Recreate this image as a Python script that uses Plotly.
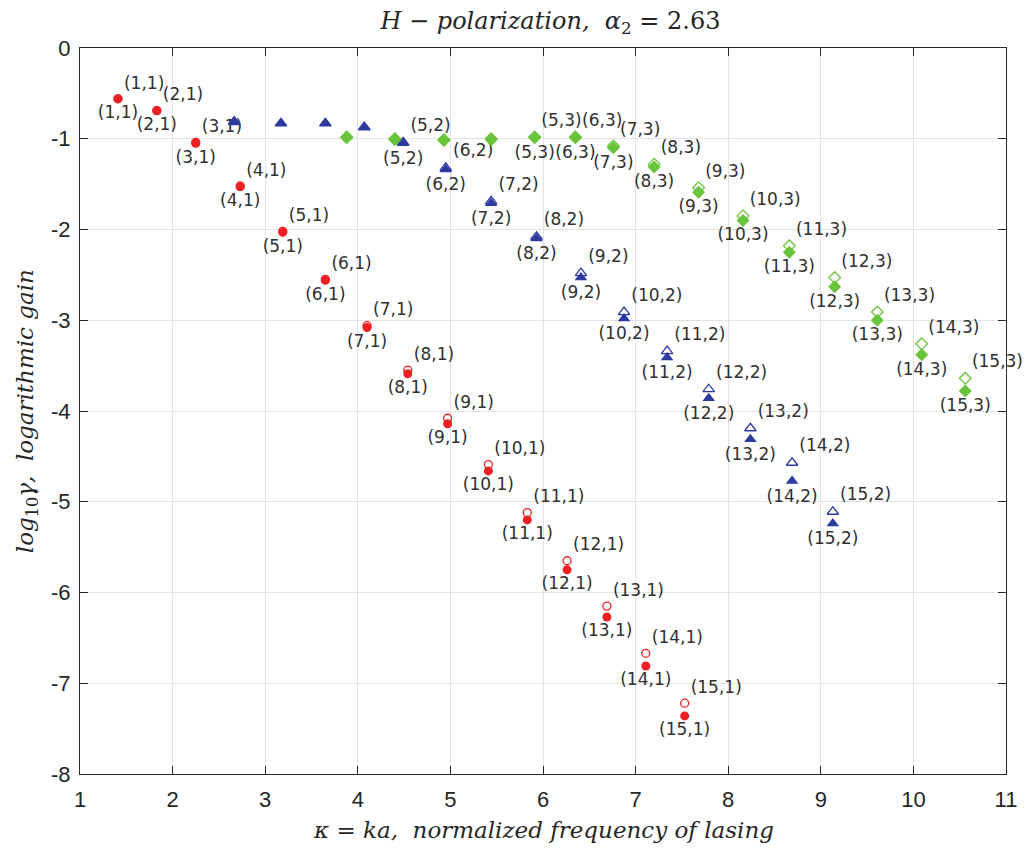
import plotly.graph_objects as go

# ---- data ----
kappa_m1 = [1.41, 1.83, 2.25, 2.73, 3.19, 3.65, 4.10, 4.54, 4.97, 5.41, 5.83, 6.26, 6.69, 7.11, 7.53]
gain_m1_filled = [-0.56, -0.69, -1.05, -1.53, -2.03, -2.56, -3.08, -3.59, -4.14, -4.66, -5.20, -5.75, -6.27, -6.81, -7.36]
gain_m1_open = [-0.56, -0.69, -1.04, -1.52, -2.02, -2.55, -3.06, -3.55, -4.08, -4.59, -5.12, -5.65, -6.15, -6.67, -7.22]

kappa_m2 = [2.665, 3.17, 3.65, 4.07, 4.49, 4.95, 5.44, 5.93, 6.41, 6.875, 7.34, 7.79, 8.24, 8.69, 9.13]
gain_m2_filled = [-0.82, -0.83, -0.83, -0.88, -1.05, -1.34, -1.71, -2.10, -2.53, -2.98, -3.41, -3.86, -4.31, -4.77, -5.24]
gain_m2_open = [-0.81, -0.83, -0.83, -0.87, -1.04, -1.32, -1.69, -2.08, -2.48, -2.91, -3.34, -3.76, -4.19, -4.57, -5.11]

kappa_m3 = [3.88, 4.40, 4.93, 5.44, 5.91, 6.35, 6.76, 7.20, 7.68, 8.16, 8.66, 9.15, 9.61, 10.09, 10.56]
gain_m3_filled = [-0.99, -1.01, -1.02, -1.01, -0.99, -0.99, -1.10, -1.31, -1.59, -1.90, -2.25, -2.63, -3.00, -3.38, -3.78]
gain_m3_open = [-0.98, -1.00, -1.01, -1.00, -0.98, -0.98, -1.08, -1.28, -1.54, -1.85, -2.18, -2.53, -2.91, -3.26, -3.64]

labels_m1 = ["(%d,1)" % n for n in range(1, 16)]
labels_m2 = [""] * 4 + ["(%d,2)" % n for n in range(5, 16)]
labels_m3 = [""] * 4 + ["(%d,3)" % n for n in range(5, 16)]

x_ticks = [1, 2, 3, 4, 5, 6, 7, 8, 9, 10, 11]
x_ticktext = ["1", "2", "3", "4", "5", "6", "7", "8", "9", "10", "11"]
y_ticks = [0, -1, -2, -3, -4, -5, -6, -7, -8]
y_ticktext = ["0", "-1", "-2", "-3", "-4", "-5", "-6", "-7", "-8"]

RED = "rgb(238,32,36)"
BLUE = "rgb(44,58,160)"
GREEN = "rgb(104,196,58)"
LABEL_FONT = dict(family="DejaVu Sans, Arial, sans-serif", size=17, color="#303030")

fig = go.Figure()

series = [
    (kappa_m1, gain_m1_open, gain_m1_filled, labels_m1, RED, "circle", 9),
    (kappa_m2, gain_m2_open, gain_m2_filled, labels_m2, BLUE, "triangle-up", 11),
    (kappa_m3, gain_m3_open, gain_m3_filled, labels_m3, GREEN, "diamond", 10),
]


def split(k, g, labs):
    """Separate labelled points from unlabelled ones."""
    lab_idx = [i for i, t in enumerate(labs) if t]
    nol_idx = [i for i, t in enumerate(labs) if not t]
    return ([k[i] for i in lab_idx], [g[i] for i in lab_idx], [labs[i] for i in lab_idx],
            [k[i] for i in nol_idx], [g[i] for i in nol_idx])


def add(k, g, labs, pos, marker):
    kx, gy, tx, kn, gn = split(k, g, labs)
    if kn:
        fig.add_trace(go.Scatter(x=kn, y=gn, mode="markers", marker=marker,
                                 showlegend=False, cliponaxis=False))
    fig.add_trace(go.Scatter(x=kx, y=gy, mode="markers+text", text=tx, textposition=pos,
                             textfont=LABEL_FONT, marker=marker,
                             showlegend=False, cliponaxis=False))


for k, g_open, g_fill, labs, col, sym, sz in series:
    add(k, g_open, labs, "top right",
        dict(symbol=sym + "-open", size=sz - 1, color=col, line=dict(color=col, width=1.3)))
for k, g_open, g_fill, labs, col, sym, sz in series:
    add(k, g_fill, labs, "bottom center",
        dict(symbol=sym, size=sz, color=col, line=dict(width=0)))

axis_common = dict(
    showgrid=True, gridcolor="rgb(226,226,226)", gridwidth=1,
    showline=True, linecolor="rgb(40,40,40)", linewidth=1, mirror="ticks",
    ticks="inside", ticklen=8, tickcolor="rgb(40,40,40)",
    zeroline=False,
    tickfont=dict(family="Liberation Sans, Arial, sans-serif", size=22, color="#262626"),
)

fig.update_xaxes(range=[1, 11], tickvals=x_ticks, ticktext=x_ticktext,
                 ticklabelstandoff=6, **axis_common)
fig.update_yaxes(range=[-8, 0], tickvals=y_ticks, ticktext=y_ticktext,
                 ticklabelstandoff=4, **axis_common)

serif_it = dict(family="DejaVu Serif, Liberation Serif, serif", color="#262626")

fig.update_layout(
    width=1029, height=849, autosize=False,
    margin=dict(l=80, r=16, t=48, b=75, pad=0),
    plot_bgcolor="white", paper_bgcolor="white",
    title=dict(
        text="<i>H</i> − <i>polarization,</i>  <i>α</i><sub>2</sub> = 2.63",
        x=0.535, xanchor="center", y=1 - 21 / 849, yanchor="middle", yref="container",
        font=dict(size=24, **serif_it)),
    annotations=[
        dict(text="<i>κ</i> = <i>ka,  normalized frequency of lasing</i>",
             xref="paper", yref="paper", x=0.5, y=-0.077, xanchor="center", yanchor="middle",
             showarrow=False, font=dict(size=23, **serif_it)),
        dict(text="<i>log</i><sub>10</sub><i>γ,  logarithmic gain</i>",
             xref="paper", yref="paper", x=-0.057, y=0.5, xanchor="center", yanchor="middle",
             textangle=-90, showarrow=False, font=dict(size=23, **serif_it)),
    ],
)

fig.write_html("out.html")
